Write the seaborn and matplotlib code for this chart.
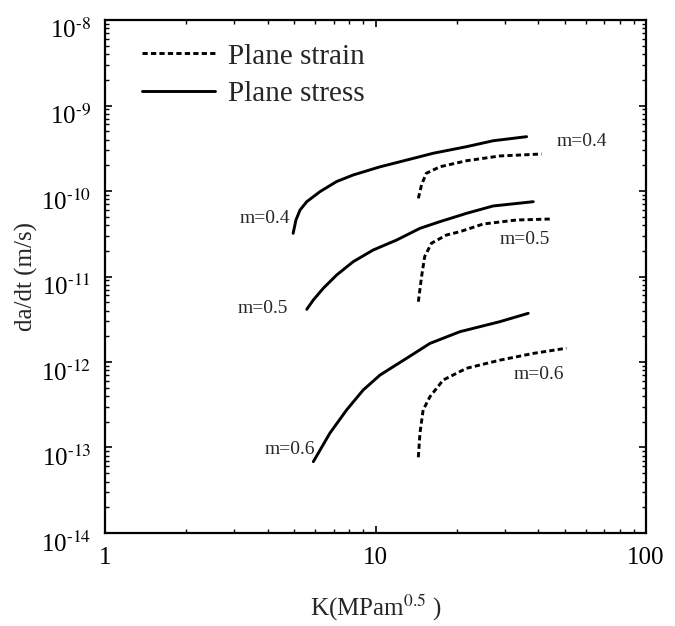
import numpy as np
import pandas as pd
import matplotlib
matplotlib.use("Agg")
import matplotlib.pyplot as plt
import matplotlib.ticker as mticker
from matplotlib.transforms import ScaledTranslation
import seaborn as sns

# ==========================
# Data
# ==========================

# plane stress (solid)
k_stress_04 = [4.96, 5.08, 5.26, 5.57, 6.23, 7.18, 8.27, 10.4, 13.8, 16.3, 21.7, 27.2, 36.2]
v_stress_04 = [3.20e-11, 4.58e-11, 6.00e-11, 7.50e-11, 9.82e-11, 1.29e-10, 1.54e-10,
               1.92e-10, 2.41e-10, 2.76e-10, 3.30e-10, 3.87e-10, 4.32e-10]

k_stress_05 = [5.57, 5.89, 6.41, 7.18, 8.27, 9.80, 11.97, 14.6, 17.3, 21.7, 27.2, 38.3]
v_stress_05 = [4.13e-12, 5.31e-12, 7.28e-12, 1.04e-11, 1.49e-11, 2.04e-11, 2.67e-11,
               3.66e-11, 4.38e-11, 5.48e-11, 6.68e-11, 7.50e-11]

k_stress_06 = [5.89, 6.78, 7.82, 9.01, 10.4, 13.0, 15.9, 20.5, 28.8, 36.7]
v_stress_06 = [6.82e-14, 1.47e-13, 2.75e-13, 4.71e-13, 7.05e-13, 1.10e-12, 1.65e-12,
               2.26e-12, 2.96e-12, 3.71e-12]

# plane strain (dashed)
k_strain_04 = [14.4, 14.8, 15.4, 17.3, 21.7, 28.8, 41.1]
v_strain_04 = [8.21e-11, 1.18e-10, 1.61e-10, 1.92e-10, 2.26e-10, 2.57e-10, 2.71e-10]

k_strain_05 = [14.4, 14.8, 15.2, 16.1, 18.3, 20.5, 25.0, 33.2, 44.8]
v_strain_05 = [5.07e-12, 9.95e-12, 1.71e-11, 2.45e-11, 3.06e-11, 3.34e-11, 4.11e-11,
               4.58e-11, 4.71e-11]

k_strain_06 = [14.4, 14.6, 15.0, 15.9, 17.8, 21.7, 28.8, 38.3, 50.8]
v_strain_06 = [7.68e-14, 1.47e-13, 2.75e-13, 3.93e-13, 6.16e-13, 8.44e-13, 1.05e-12,
               1.26e-12, 1.45e-12]

x_ticks = [1, 10, 100]
x_tick_labels = ["1", "10", "100"]
y_ticks = [1e-14, 1e-13, 1e-12, 1e-11, 1e-10, 1e-9, 1e-8]
y_tick_labels = [r"10$^{\text{-14}}$", r"10$^{\text{-13}}$", r"10$^{\text{-12}}$",
                 r"10$^{\text{-11}}$", r"10$^{\text{-10}}$", r"10$^{\text{-9}}$",
                 r"10$^{\text{-8}}$"]

curves = [
    ("Plane strain", "0.4", k_strain_04, v_strain_04),
    ("Plane strain", "0.5", k_strain_05, v_strain_05),
    ("Plane strain", "0.6", k_strain_06, v_strain_06),
    ("Plane stress", "0.4", k_stress_04, v_stress_04),
    ("Plane stress", "0.5", k_stress_05, v_stress_05),
    ("Plane stress", "0.6", k_stress_06, v_stress_06),
]

# label text, anchor K, anchor da/dt, alignment
m_labels = [
    ("m=0.4", 4.83, 4.83e-11, "right"),
    ("m=0.5", 4.75, 4.17e-12, "right"),
    ("m=0.6", 5.96, 9.5e-14, "right"),
    ("m=0.4", 46.7, 3.77e-10, "left"),
    ("m=0.5", 28.8, 2.72e-11, "left"),
    ("m=0.6", 32.3, 7.05e-13, "left"),
]

rows = []
for cond, m, ks, vs in curves:
    for i, (k, v) in enumerate(zip(ks, vs)):
        rows.append({"K": k, "rate": v, "condition": cond, "m": m, "order": i})
df = pd.DataFrame(rows)

# ==========================
# Style
# ==========================

sns.set_style("ticks")
plt.rcParams["font.family"] = ["Liberation Serif", "DejaVu Serif"]
plt.rcParams["mathtext.fontset"] = "stix"

fig = plt.figure(figsize=(6.75, 6.26), dpi=100)
ax = fig.add_axes([0.1556, 0.1486, 0.8014, 0.8194])

dash_styles = {"Plane strain": (0, (1.8, 1.1)), "Plane stress": "-"}

for cond, m, ks, vs in curves:
    sub = df[(df["condition"] == cond) & (df["m"] == m)]
    sns.lineplot(
        data=sub,
        x="K",
        y="rate",
        ax=ax,
        color="black",
        linewidth=2.1,
        linestyle=dash_styles[cond],
        sort=False,
        estimator=None,
        label=cond if m == "0.4" else None,
        legend=False
    )

ax.set_xscale("log")
ax.set_yscale("log")
ax.set_xlim(1, 100)
ax.set_ylim(1e-14, 1e-8)

ax.set_xticks(x_ticks)
ax.set_xticklabels(x_tick_labels)
ax.set_yticks(y_ticks)
ax.set_yticklabels(y_tick_labels)
ax.xaxis.set_minor_locator(mticker.LogLocator(base=10, subs=np.arange(2, 10), numticks=100))
ax.yaxis.set_minor_locator(mticker.LogLocator(base=10, subs=np.arange(2, 10), numticks=100))
ax.xaxis.set_minor_formatter(mticker.NullFormatter())
ax.yaxis.set_minor_formatter(mticker.NullFormatter())

ax.tick_params(which="both", direction="in", top=True, right=True, colors="black")
ax.tick_params(which="major", length=5, width=1.2, labelsize=18, pad=10)
ax.tick_params(which="minor", length=3, width=1.0)

# y labels in the original sit a little below their tick
offset = ScaledTranslation(0, -6 / 72, fig.dpi_scale_trans)
for lab in ax.get_yticklabels():
    lab.set_transform(lab.get_transform() + offset)

for sp in ax.spines.values():
    sp.set_linewidth(1.6)
    sp.set_color("black")

for txt, kx, ky, ha in m_labels:
    ax.text(kx, ky, txt, ha=ha, va="center", fontsize=14)

ax.set_xlabel(r"K(MPam$^{0.5}$ )", fontsize=18, labelpad=17)
ax.set_ylabel("da/dt (m/s)", fontsize=18, labelpad=2)

ax.legend(
    loc="upper left",
    bbox_to_anchor=(0.068, 0.955),
    frameon=False,
    fontsize=21,
    handlelength=2.5,
    handletextpad=0.45,
    labelspacing=0.37,
    borderpad=0,
    borderaxespad=0
)

plt.savefig("out.png", dpi=100)
plt.close()
